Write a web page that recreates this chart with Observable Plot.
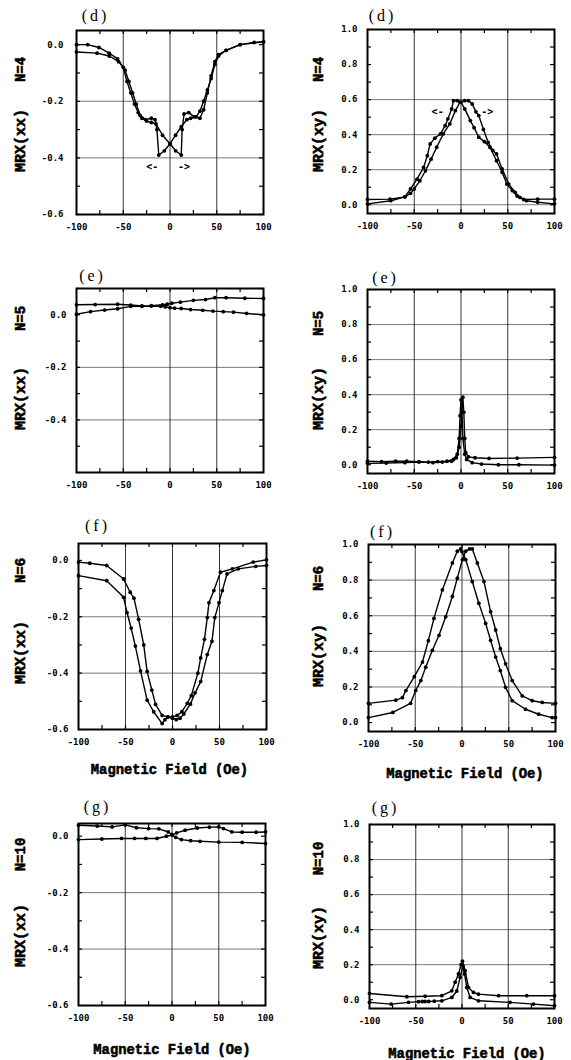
<!DOCTYPE html>
<html><head><meta charset="utf-8">
<script src="https://cdn.jsdelivr.net/npm/d3@7"></script>
<script src="https://cdn.jsdelivr.net/npm/@observablehq/plot@0.6"></script>
<style>
body{margin:0;background:#fff;}
#root{position:relative;width:571px;height:1060px;overflow:hidden;background:#fff;}
#root svg{position:absolute;overflow:visible;}
</style></head><body><div id="root"></div>
<script>
// ---------- DATA ----------
const xTicks = [-100, -50, 0, 50, 100];
const xGrid = [-50, 0, 50];
const xMinor = [-75, -25, 25, 75];
const xxTicks = [0.0, -0.2, -0.4, -0.6];
const xxTicksE = [0.0, -0.2, -0.4];
const xyTicks = [0.0, 0.2, 0.4, 0.6, 0.8, 1.0];

// (d) N=4, MRX(xx)
const dxx_up_x = [-100, -88, -76, -65, -56, -50, -46, -42, -38, -34, -30, -25, -20, -15, -8, 0, 6, 12, 13, 15, 20, 26, 32, 36, 40, 44, 48, 52, 60, 75, 100];
const dxx_up_y = [0.0, 0.0, -0.01, -0.03, -0.05, -0.08, -0.13, -0.17, -0.21, -0.24, -0.26, -0.27, -0.275, -0.28, -0.32, -0.35, -0.375, -0.39, -0.3, -0.245, -0.24, -0.255, -0.26, -0.23, -0.17, -0.11, -0.06, -0.035, -0.02, 0.0, 0.01];
const dxx_dn_x = [100, 90, 75, 60, 52, 48, 44, 40, 36, 32, 28, 22, 18, 12, 6, 0, -6, -12, -14, -16, -20, -26, -32, -36, -40, -44, -48, -55, -65, -78, -100];
const dxx_dn_y = [0.01, 0.008, 0.0, -0.02, -0.04, -0.07, -0.12, -0.16, -0.2, -0.235, -0.255, -0.26, -0.265, -0.29, -0.32, -0.35, -0.375, -0.39, -0.3, -0.265, -0.26, -0.265, -0.25, -0.21, -0.17, -0.13, -0.09, -0.06, -0.04, -0.03, -0.026];
const dxx_arrows = [{t: "<-", x: -19, y: -0.43}, {t: "->", x: 15, y: -0.43}];

// (d) N=4, MRX(xy)
const dxy_up_x = [-100, -75, -60, -54, -50, -44, -38, -32, -26, -19, -12, -6, -1, 4, 8, 12, 16, 19, 24, 29, 34, 38, 44, 51, 58, 63, 70, 82, 100];
const dxy_up_y = [0.005, 0.023, 0.045, 0.065, 0.09, 0.137, 0.194, 0.26, 0.328, 0.404, 0.461, 0.537, 0.585, 0.594, 0.594, 0.575, 0.53, 0.509, 0.43, 0.356, 0.31, 0.29, 0.204, 0.118, 0.07, 0.042, 0.023, 0.014, 0.005];
const dxy_dn_x = [100, 82, 67, 60, 55, 49, 44, 38, 31, 25, 19, 14, 10, 4, 0, -4, -8, -10, -14, -17, -22, -28, -33, -36, -40, -47, -54, -60, -76, -100];
const dxy_dn_y = [0.032, 0.032, 0.03, 0.05, 0.08, 0.118, 0.185, 0.251, 0.328, 0.36, 0.385, 0.44, 0.48, 0.547, 0.585, 0.594, 0.594, 0.547, 0.49, 0.451, 0.404, 0.38, 0.347, 0.28, 0.213, 0.146, 0.09, 0.045, 0.032, 0.03];
const dxy_arrows = [{t: "<-", x: -25, y: 0.53}, {t: "->", x: 28, y: 0.53}];

// (e) N=5, MRX(xx)
const exx_a_x = [-100, -80, -56, -42, -30, -20, -8, -3, 2, 11, 25, 38, 48, 60, 80, 100];
const exx_a_y = [0.038, 0.039, 0.04, 0.037, 0.034, 0.035, 0.038, 0.04, 0.044, 0.048, 0.055, 0.058, 0.065, 0.065, 0.063, 0.062];
const exx_b_x = [-100, -85, -70, -56, -42, -30, -20, -10, -5, 0, 5, 12, 22, 35, 46, 57, 68, 82, 100];
const exx_b_y = [0.002, 0.012, 0.018, 0.023, 0.032, 0.032, 0.033, 0.032, 0.03, 0.027, 0.025, 0.024, 0.02, 0.017, 0.014, 0.012, 0.01, 0.005, 0.0];

// (e) N=5, MRX(xy)
const exy_a_x = [-100, -85, -70, -58, -45, -35, -25, -15, -8, -4, -2, -1, 0, 1, 2, 4, 6, 12, 22, 40, 62, 100];
const exy_a_y = [0.02, 0.018, 0.02, 0.02, 0.018, 0.015, 0.018, 0.02, 0.03, 0.06, 0.15, 0.28, 0.37, 0.3, 0.15, 0.06, 0.03, 0.012, 0.004, 0.0, 0.0, -0.002];
const exy_b_x = [-100, -80, -60, -45, -30, -20, -10, -5, -2, 0, 1, 2, 3, 4, 5, 8, 15, 30, 60, 100];
const exy_b_y = [0.008, 0.01, 0.012, 0.015, 0.012, 0.015, 0.02, 0.04, 0.1, 0.22, 0.33, 0.385, 0.3, 0.15, 0.07, 0.045, 0.04, 0.036, 0.038, 0.042];

// (f) N=6, MRX(xx)
const fxx_up_x = [-100, -88, -70, -52, -45, -41, -36, -30.6, -27, -22, -18, -11, -5, 0, 4, 8, 12, 19, 24, 30, 37, 42, 45, 49.5, 53, 58, 70, 88.6, 100];
const fxx_up_y = [-0.006, -0.01, -0.018, -0.066, -0.113, -0.134, -0.209, -0.3, -0.394, -0.46, -0.511, -0.55, -0.555, -0.56, -0.565, -0.56, -0.545, -0.51, -0.47, -0.43, -0.334, -0.287, -0.203, -0.15, -0.107, -0.048, -0.03, -0.021, -0.018];
const fxx_dn_x = [100, 85.8, 63.7, 51, 44, 38.8, 37, 34, 30, 27, 20, 15.7, 10, 5, 0, -5, -8, -11, -20, -27, -34, -39.5, -44, -48.4, -52, -70, -100];
const fxx_dn_y = [0.002, -0.006, -0.03, -0.042, -0.107, -0.15, -0.203, -0.28, -0.346, -0.4, -0.48, -0.507, -0.537, -0.55, -0.555, -0.556, -0.565, -0.579, -0.537, -0.496, -0.392, -0.304, -0.24, -0.185, -0.131, -0.072, -0.054];

// (f) N=6, MRX(xy)
const fxy_up_x = [-100, -74, -55, -49.5, -44, -38.8, -31.7, -24.6, -17.4, -10.3, -5, 0.4, 4, 8, 11, 16.4, 23.5, 30.6, 36, 41, 46.6, 53.7, 64.4, 75, 85.8, 100];
const fxy_up_y = [0.028, 0.057, 0.108, 0.18, 0.236, 0.311, 0.406, 0.49, 0.594, 0.708, 0.811, 0.915, 0.962, 0.975, 0.975, 0.896, 0.792, 0.623, 0.52, 0.415, 0.33, 0.236, 0.15, 0.123, 0.113, 0.108];
const fxy_dn_x = [100, 96.4, 82, 68, 53.7, 46.6, 41, 36, 30.6, 25.3, 18, 11, 4, 0, -1.4, -5, -10.3, -21, -30, -36, -42.3, -51, -60, -63.7, -70.8, -100];
const fxy_dn_y = [0.028, 0.028, 0.047, 0.075, 0.123, 0.198, 0.292, 0.368, 0.462, 0.557, 0.67, 0.792, 0.915, 0.96, 0.975, 0.962, 0.896, 0.745, 0.585, 0.46, 0.34, 0.258, 0.18, 0.14, 0.126, 0.108];

// (g) N=10, MRX(xx)
const gxx_a_x = [-100, -80, -64, -50, -38, -25, -14, -4, 0, 4, 10, 20, 30, 50, 75, 100];
const gxx_a_y = [0.039, 0.036, 0.033, 0.04, 0.03, 0.027, 0.026, 0.015, 0.006, -0.004, -0.012, -0.016, -0.018, -0.021, -0.022, -0.026];
const gxx_b_x = [-100, -75, -54, -40, -28, -16, -6, 0, 5, 14, 27, 40, 50, 55, 64, 75, 90, 100];
const gxx_b_y = [-0.012, -0.01, -0.008, -0.008, -0.008, -0.008, 0.0, 0.004, 0.012, 0.021, 0.029, 0.032, 0.033, 0.027, 0.015, 0.014, 0.014, 0.015];

// (g) N=10, MRX(xy)
const gxy_a_x = [-100, -59.6, -40, -21.8, -11, -7.4, -3.8, -1, 0.5, 3.4, 7, 12.4, 17.8, 39.5, 70, 100];
const gxy_a_y = [0.036, 0.017, 0.02, 0.023, 0.051, 0.1, 0.147, 0.2, 0.22, 0.166, 0.07, 0.042, 0.032, 0.023, 0.023, 0.023];
const gxy_b_x = [-100, -76.6, -57.8, -47, -43, -40, -36, -30, -21.8, -11, -5.6, -2, 1, 2.7, 5.2, 8.8, 17.8, 52, 77.3, 100];
const gxy_b_y = [-0.015, -0.025, -0.015, -0.011, -0.01, -0.01, -0.01, -0.008, -0.006, 0.013, 0.05, 0.128, 0.195, 0.147, 0.07, 0.013, -0.006, -0.015, -0.025, -0.034];

// ---------- LAYOUT ----------
const xLabel = "Magnetic Field (Oe)";
const panels = [
  {letter: "(d)", n: "N=4", yl: "MRX(xx)", series: [[dxx_up_x, dxx_up_y], [dxx_dn_x, dxx_dn_y]], arrows: dxx_arrows,
   yDomain: [-0.6, 0.05], yTicks: xxTicks, hgrid: [-0.2, -0.4],
   box: [0, 0, 285, 260], m: [30, 22, 46, 76], tp: 13, L: {ldx: 19, ldy: -10, ndx: -56, ndy: 39, mdy: 110}},
  {letter: "(d)", n: "N=4", yl: "MRX(xy)", series: [[dxy_up_x, dxy_up_y], [dxy_dn_x, dxy_dn_y]], arrows: dxy_arrows,
   yDomain: [-0.05, 1.0], yTicks: xyTicks, hgrid: [0.0, 0.2, 0.4, 0.6],
   box: [285, 0, 286, 260], m: [29, 17, 47, 82], tp: 10, L: {ldx: 15, ldy: -9, ndx: -49, ndy: 40, mdy: 111}},
  {letter: "(e)", n: "N=5", yl: "MRX(xx)", series: [[exx_a_x, exx_a_y], [exx_b_x, exx_b_y]],
   yDomain: [-0.6, 0.1], yTicks: xxTicksE, hgrid: [-0.2, -0.4],
   box: [0, 260, 285, 245], m: [28, 22, 33, 76], tp: 10, L: {ldx: 16, ldy: -8, ndx: -56, ndy: 30, mdy: 110}},
  {letter: "(e)", n: "N=5", yl: "MRX(xy)", series: [[exy_a_x, exy_a_y], [exy_b_x, exy_b_y]],
   yDomain: [-0.05, 1.0], yTicks: xyTicks, hgrid: [0.2, 0.4, 0.6, 0.8],
   box: [285, 260, 286, 245], m: [29, 17, 32, 82], tp: 10, L: {ldx: 18, ldy: -7, ndx: -49, ndy: 34, mdy: 109}},
  {letter: "(f)", n: "N=6", yl: "MRX(xx)", series: [[fxx_up_x, fxx_up_y], [fxx_dn_x, fxx_dn_y]],
   yDomain: [-0.6, 0.06], yTicks: xxTicks, hgrid: [-0.2, -0.4], xl: true,
   box: [0, 505, 285, 295], m: [38, 19, 71, 78], tp: 10, L: {ldx: 19, ldy: -13, ndx: -58, ndy: 27, mdy: 109, xdx: -3, xdy: 44}},
  {letter: "(f)", n: "N=6", yl: "MRX(xy)", series: [[fxy_up_x, fxy_up_y], [fxy_dn_x, fxy_dn_y]],
   yDomain: [-0.05, 1.0], yTicks: xyTicks, hgrid: [0.2, 0.4, 0.6, 0.8], xl: true,
   box: [285, 505, 286, 295], m: [39, 16, 69, 83], tp: 10, L: {ldx: 14, ldy: -8, ndx: -50, ndy: 34, mdy: 111, xdx: 3, xdy: 46}},
  {letter: "(g)", n: "N=10", yl: "MRX(xx)", series: [[gxx_a_x, gxx_a_y], [gxx_b_x, gxx_b_y]],
   yDomain: [-0.6, 0.045], yTicks: xxTicks, hgrid: [-0.2, -0.4], xl: true,
   box: [0, 795, 285, 265], m: [28, 20, 55, 78], tp: 10, L: {ldx: 19, ldy: -12, ndx: -58, ndy: 31, mdy: 112, xdx: 0, xdy: 48}},
  {letter: "(g)", n: "N=10", yl: "MRX(xy)", series: [[gxy_a_x, gxy_a_y], [gxy_b_x, gxy_b_y]],
   yDomain: [-0.05, 1.0], yTicks: xyTicks, hgrid: [0.2, 0.4, 0.6, 0.8], xl: true,
   box: [285, 795, 286, 265], m: [29, 17, 52, 84], tp: 10, L: {ldx: 16, ldy: -12, ndx: -51, ndy: 34, mdy: 113, xdx: 5, xdy: 49}}
];

const root = document.getElementById("root");
const labelFont = "Liberation Mono";
const tickFont = "DejaVu Sans Mono";

for (const p of panels) {
  const [bx, by, W, H] = p.box;
  const [mt, mr, mb, ml] = p.m;
  const fh = H - mt - mb, fw = W - ml - mr;
  const pts = p.series.flatMap(([xs, ys], k) => xs.map((x, i) => ({x, y: ys[i], s: k})));
  const lo = p.yDomain[0], hi = p.yDomain[1];
  const yMinor = d3.range(Math.ceil(lo * 10 - 1e-9), Math.floor(hi * 10 + 1e-9) + 1).map(v => v / 10);
  const L = p.L;
  const heavy = {stroke: "#000", strokeWidth: 0.55};
  const marks = [
    Plot.ruleY(p.hgrid, {stroke: "#555", strokeWidth: 0.8}),
    Plot.ruleX(xGrid, {stroke: "#222", strokeWidth: 0.9}),
    Plot.tickX(xMinor.concat(xGrid), {x: d => d, insetTop: fh - 4, stroke: "#000", strokeWidth: 1.2}),
    Plot.tickX(xMinor.concat(xGrid), {x: d => d, insetBottom: fh - 4, stroke: "#000", strokeWidth: 1.2}),
    Plot.tickY(yMinor, {y: d => d, insetRight: fw - 4, stroke: "#000", strokeWidth: 1.2}),
    Plot.tickY(yMinor, {y: d => d, insetLeft: fw - 4, stroke: "#000", strokeWidth: 1.2}),
    Plot.line(pts, {x: "x", y: "y", z: "s", stroke: "#000", strokeWidth: 1.4, curve: "linear"}),
    Plot.dot(pts, {x: "x", y: "y", r: 1.9, fill: "#000", stroke: "none"}),
    Plot.frame({stroke: "#000", strokeWidth: 2}),
    Plot.axisX({ticks: xTicks, tickSize: 0, tickPadding: 9, tickFormat: d => String(d), label: null,
      fontFamily: tickFont, fontSize: 9, fontWeight: "bold", stroke: "#000", strokeWidth: 0.3}),
    Plot.axisY({ticks: p.yTicks, tickSize: 0, tickPadding: p.tp, tickFormat: d => d.toFixed(1), label: null,
      fontFamily: tickFont, fontSize: 9, fontWeight: "bold", stroke: "#000", strokeWidth: 0.3}),
    Plot.text([p.letter], {text: d => d, frameAnchor: "top-left", dx: L.ldx, dy: L.ldy, textAnchor: "middle", lineAnchor: "bottom",
      fontFamily: "Liberation Serif", fontSize: 16, fontWeight: "normal", fill: "#000"}),
    Plot.text([p.n], {text: d => d, frameAnchor: "top-left", dx: L.ndx, dy: L.ndy, rotate: -90, textAnchor: "middle", lineAnchor: "middle",
      fontFamily: labelFont, fontSize: 14, fontWeight: "bold", fill: "#000", ...heavy}),
    Plot.text([p.yl], {text: d => d, frameAnchor: "top-left", dx: L.ndx, dy: L.mdy, rotate: -90, textAnchor: "middle", lineAnchor: "middle",
      fontFamily: labelFont, fontSize: 15, fontWeight: "bold", fill: "#000", ...heavy})
  ];
  if (p.arrows) {
    marks.push(Plot.text(p.arrows, {x: "x", y: "y", text: "t", fontFamily: tickFont, fontSize: 10, fontWeight: "bold", fill: "#000"}));
  }
  if (p.xl) {
    marks.push(Plot.text([xLabel], {text: d => d, frameAnchor: "bottom", dx: L.xdx, dy: L.xdy, textAnchor: "middle", lineAnchor: "bottom",
      fontFamily: labelFont, fontSize: 13.8, fontWeight: "bold", fill: "#000", ...heavy}));
  }
  const svg = Plot.plot({
    width: W, height: H,
    marginTop: mt, marginRight: mr, marginBottom: mb, marginLeft: ml,
    x: {domain: [-100, 100], label: null},
    y: {domain: p.yDomain, label: null},
    style: {background: "white", color: "black", overflow: "visible"},
    marks
  });
  svg.style.left = bx + "px";
  svg.style.top = by + "px";
  root.appendChild(svg);
  d3.select(svg).selectAll("text").filter(function () { return /^\([defg]\)$/.test(this.textContent); })
    .style("letter-spacing", "3px");
}
</script>
</body></html>
